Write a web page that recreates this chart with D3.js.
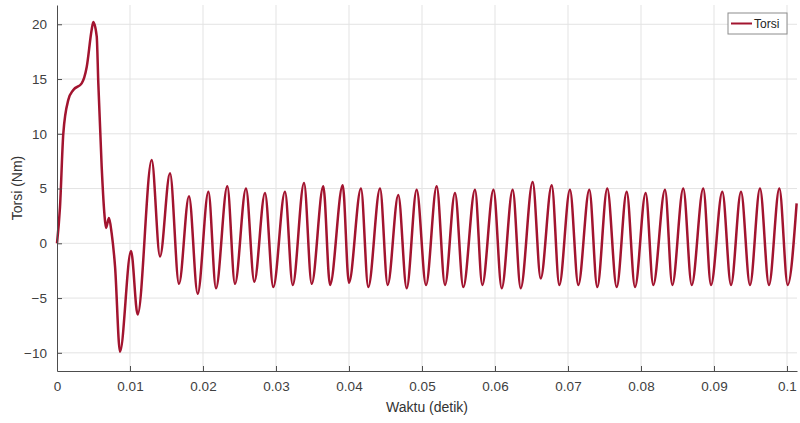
<!DOCTYPE html>
<html>
<head>
<meta charset="utf-8">
<script src="https://cdn.jsdelivr.net/npm/d3@7"></script>
<style>
  html, body { margin: 0; padding: 0; background: #fff; }
  svg { display: block; font-family: "Liberation Sans", Arial, sans-serif; }
</style>
</head>
<body>
<svg id="chart" width="800" height="423"></svg>
<script>
// Torque response (Nm) over time (s)
const waktu = [
  0, 0.00041, 0.00086, 0.00155, 0.00223, 0.00338, 0.00407, 0.00475, 0.00497, 0.00544,
  0.00566, 0.00612, 0.00648, 0.00671, 0.00712, 0.00749, 0.00795, 0.00863, 0.01014, 0.01105,
  0.01297, 0.01411, 0.01548, 0.01671, 0.01808, 0.01927, 0.02074, 0.02178, 0.02333, 0.02438,
  0.02589, 0.02703, 0.02849, 0.02963, 0.03123, 0.03229, 0.03384, 0.03489, 0.03648, 0.03740,
  0.03914, 0.03999, 0.04164, 0.04264, 0.04425, 0.04530, 0.04675, 0.04790, 0.04927, 0.05055,
  0.05201, 0.05315, 0.05452, 0.05566, 0.05726, 0.05826, 0.05979, 0.06092, 0.06242, 0.06352,
  0.06516, 0.06626, 0.06777, 0.06881, 0.07027, 0.07141, 0.07292, 0.07401, 0.07538, 0.07667,
  0.07804, 0.07918, 0.08064, 0.08168, 0.08329, 0.08429, 0.08579, 0.08695, 0.08853, 0.08959,
  0.09114, 0.09233, 0.09370, 0.09493, 0.09630, 0.09753, 0.09895, 0.10010, 0.10132
];
const torsi = [
  0, 3.3, 10.0, 13.1, 14.0, 14.6, 16.1, 19.5, 20.2, 18.9,
  14.6, 7.0, 2.8, 1.4, 2.3, 0.9, -2.1, -9.9, -0.7, -6.5,
  7.6, -1.2, 6.4, -3.7, 4.3, -4.6, 4.7, -4.1, 5.2, -3.7,
  5.0, -3.5, 4.6, -4.0, 4.7, -3.8, 5.5, -3.7, 5.2, -3.8,
  5.3, -3.6, 5.0, -4.0, 5.0, -3.8, 4.4, -4.1, 4.9, -3.8,
  5.2, -3.8, 4.6, -4.0, 4.9, -3.8, 4.9, -4.1, 4.9, -4.1,
  5.6, -3.2, 5.3, -3.8, 4.9, -3.8, 4.9, -4.0, 5.0, -4.0,
  4.7, -4.0, 4.6, -3.8, 4.9, -3.8, 5.0, -3.8, 5.0, -3.8,
  4.7, -3.8, 4.7, -3.8, 5.0, -3.8, 5.0, -3.8, 3.65
];
const xTicks = [0, 0.01, 0.02, 0.03, 0.04, 0.05, 0.06, 0.07, 0.08, 0.09, 0.1];
const xTickLabels = ["0", "0.01", "0.02", "0.03", "0.04", "0.05", "0.06", "0.07", "0.08", "0.09", "0.1"];
const yTicks = [-10, -5, 0, 5, 10, 15, 20];
const seriesName = "Torsi";

const svg = d3.select("#chart");
const margin = { left: 57, right: 3, top: 5, bottom: 52 };
const W = 800, H = 423;

const x = d3.scaleLinear().domain([0, 0.10137]).range([margin.left, W - margin.right]);
const y = d3.scaleLinear().domain([-11.66, 21.76]).range([H - margin.bottom, margin.top]);

const textColor = "#404040";
const gridColor = "#e3e3e3";
const lineColor = "#a2142f";

// grid
const grid = svg.append("g");
grid.selectAll("line.gx").data(xTicks.slice(1)).join("line")
  .attr("x1", d => x(d)).attr("x2", d => x(d))
  .attr("y1", y.range()[1]).attr("y2", y.range()[0])
  .attr("stroke", gridColor).attr("stroke-width", 1);
grid.selectAll("line.gy").data(yTicks).join("line")
  .attr("x1", x.range()[0]).attr("x2", x.range()[1])
  .attr("y1", d => y(d)).attr("y2", d => y(d))
  .attr("stroke", gridColor).attr("stroke-width", 1);

// series
const pts = waktu.map((t, i) => [t, torsi[i]]);
const line = d3.line().x(d => x(d[0])).y(d => y(d[1])).curve(d3.curveMonotoneX);
svg.append("path").datum(pts)
  .attr("d", line)
  .attr("fill", "none")
  .attr("stroke", lineColor)
  .attr("stroke-width", 2.5)
  .attr("stroke-linejoin", "round");

// axes (ticks pointing inward)
const xAxis = d3.axisBottom(x).tickValues(xTicks)
  .tickFormat((d, i) => xTickLabels[i]).tickSizeInner(-5).tickSizeOuter(0).tickPadding(10);
const gx = svg.append("g").attr("transform", `translate(0,${y.range()[0]})`).call(xAxis);
const yAxis = d3.axisLeft(y).tickValues(yTicks).tickSizeInner(-5).tickSizeOuter(0).tickPadding(10);
const gy = svg.append("g").attr("transform", `translate(${x.range()[0]},0)`).call(yAxis);
[gx, gy].forEach(g => {
  g.select(".domain").attr("stroke", "#4d4d4d").attr("stroke-width", 1);
  g.selectAll(".tick line").attr("stroke", "#4d4d4d");
  g.selectAll(".tick text").attr("fill", textColor).attr("font-size", 13.5)
    .attr("font-family", "'Liberation Sans', Arial, sans-serif");
});

// axis labels
svg.append("text")
  .attr("x", (x.range()[0] + x.range()[1]) / 2).attr("y", 412)
  .attr("text-anchor", "middle").attr("fill", "#333").attr("font-size", 14)
  .text("Waktu (detik)");
svg.append("text")
  .attr("transform", `translate(22,${(y.range()[0] + y.range()[1]) / 2}) rotate(-90)`)
  .attr("text-anchor", "middle").attr("fill", "#333").attr("font-size", 14)
  .text("Torsi (Nm)");

// legend
const lg = svg.append("g").attr("transform", "translate(728,13)");
lg.append("rect").attr("width", 59).attr("height", 21)
  .attr("fill", "#fff").attr("stroke", "#8c8c8c").attr("stroke-width", 1);
lg.append("line").attr("x1", 3).attr("x2", 24).attr("y1", 10.5).attr("y2", 10.5)
  .attr("stroke", lineColor).attr("stroke-width", 2);
lg.append("text").attr("x", 26).attr("y", 15).attr("font-size", 12).attr("fill", "#222")
  .text(seriesName);
</script>
</body>
</html>
